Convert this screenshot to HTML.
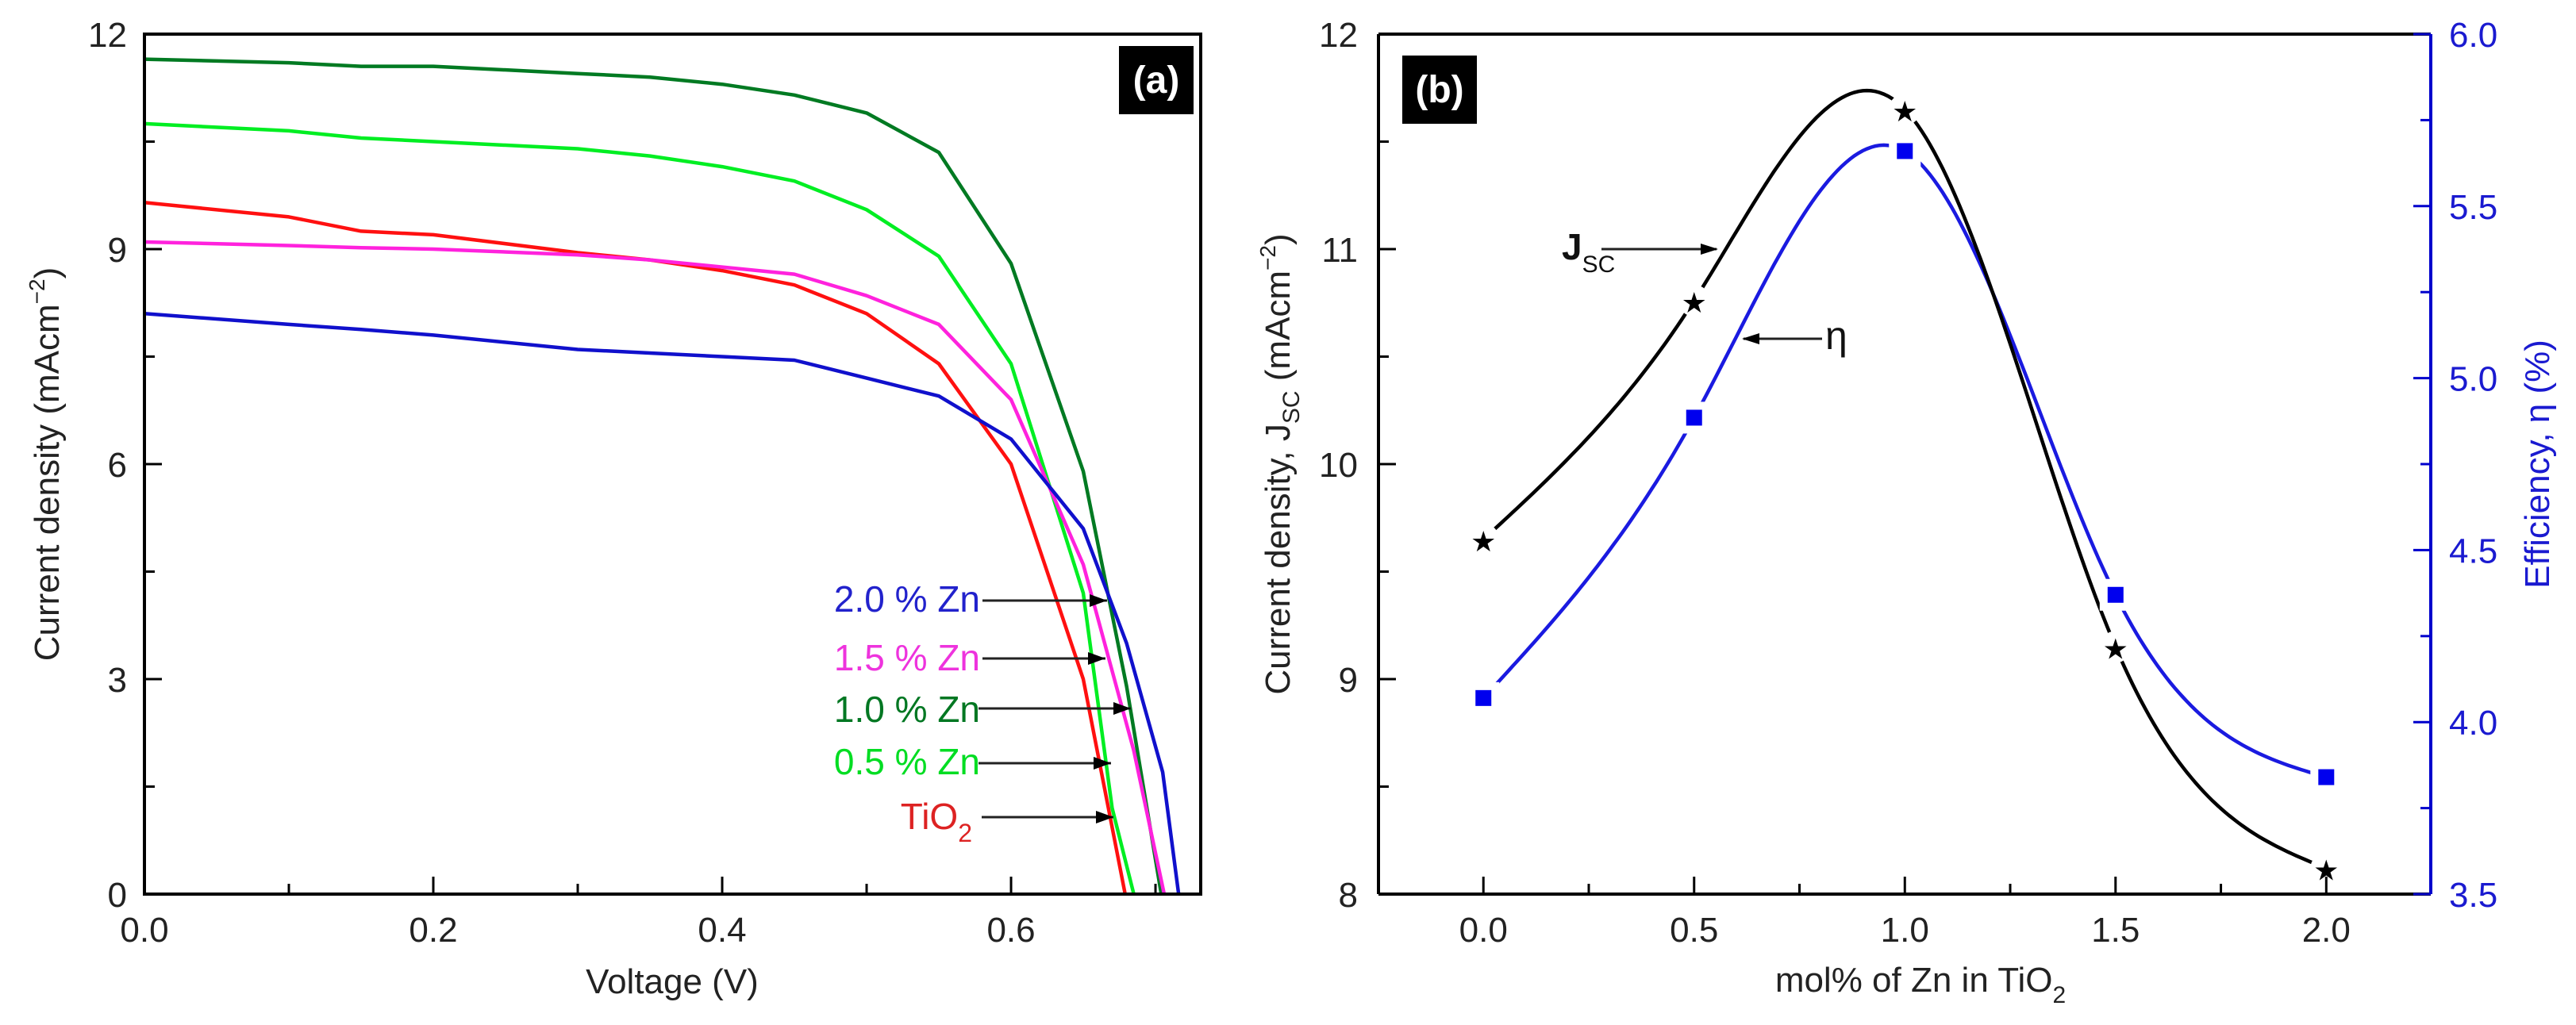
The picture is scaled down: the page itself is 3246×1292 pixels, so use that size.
<!DOCTYPE html>
<html><head><meta charset="utf-8"><style>
html,body{margin:0;padding:0;background:#fff;}
svg{display:block;font-family:"Liberation Sans",Arial,sans-serif;}
</style></head><body>
<svg id="fig" width="3246" height="1292" viewBox="0 0 3246 1292" xmlns="http://www.w3.org/2000/svg"></svg>
<script>
// ---------- Panel (a) data ----------
const voltA = [0,0.1,0.15,0.2,0.3,0.35,0.4,0.45,0.5,0.55,0.6,0.65];
const seriesNames = ["TiO2","0.5 % Zn","1.0 % Zn","1.5 % Zn","2.0 % Zn"];
const jTiO2 = [9.65,9.45,9.25,9.2,8.95,8.85,8.7,8.5,8.1,7.4,6.0,3.0];
const jZn05 = [10.75,10.65,10.55,10.5,10.4,10.3,10.15,9.95,9.55,8.9,7.4,4.2];
const jZn10 = [11.65,11.6,11.55,11.55,11.45,11.4,11.3,11.15,10.9,10.35,8.8,5.9];
const jZn15 = [9.1,9.05,9.02,9.0,8.92,8.85,8.75,8.65,8.35,7.95,6.9,4.6];
const jZn20 = [8.1,7.95,7.88,7.8,7.6,7.55,7.5,7.45,7.2,6.95,6.35,5.1];
const tailV = [[0.679],[0.67,0.685],[0.68,0.704],[0.685,0.706],[0.68,0.705,0.716]];
const tailJ = [[0],[1.2,0],[2.9,0],[2.0,0],[3.5,1.7,0]];
const colorsA = ["#ff1010","#00ee22","#007a22","#ff22dd","#1010cc"];
const xTicksA = [0,0.2,0.4,0.6];
const yTicksA = [0,3,6,9,12];
// ---------- Panel (b) data ----------
const molZn = [0,0.5,1.0,1.5,2.0];
const jsc = [9.65,10.76,11.65,9.15,8.12];
const eff = [4.07,4.885,5.66,4.37,3.84];
const xTicksB = [0,0.5,1.0,1.5,2.0];
const yTicksBL = [8,9,10,11,12];
const yTicksBR = [3.5,4.0,4.5,5.0,5.5,6.0];

const NS="http://www.w3.org/2000/svg";
const svg=document.getElementById('fig');
function el(tag,attrs,parent){const e=document.createElementNS(NS,tag);for(const k in attrs)e.setAttribute(k,attrs[k]);(parent||svg).appendChild(e);return e;}
function txt(x,y,s,attrs,parent){const t=el('text',Object.assign({x:x,y:y,'font-size':44},attrs),parent);t.textContent=s;return t;}

// axes functions
const AX={l:182,r:1513,t:43,b:1127,x0:0,x1:0.7313,y0:0,y1:12};
const xa=v=>AX.l+(v-AX.x0)/(AX.x1-AX.x0)*(AX.r-AX.l);
const ya=v=>AX.b-(v-AX.y0)/(AX.y1-AX.y0)*(AX.b-AX.t);
const BX={l:1737,r:3063,t:43,b:1127,x0:-0.249,x1:2.248};
const xb=v=>BX.l+(v-BX.x0)/(BX.x1-BX.x0)*(BX.r-BX.l);
const ybl=v=>BX.b-(v-8)/4*(BX.b-BX.t);
const ybr=v=>BX.b-(v-3.5)/2.5*(BX.b-BX.t);

// ---------- Panel a ----------
const gA=el('g',{});


const allJ=[jTiO2,jZn05,jZn10,jZn15,jZn20];
allJ.forEach((arr,i)=>{
  const pts=voltA.map((v,k)=>xa(v).toFixed(1)+','+ya(arr[k]).toFixed(1));
  tailV[i].forEach((v,k)=>pts.push(xa(v).toFixed(1)+','+ya(tailJ[i][k]).toFixed(1)));
  const p=el('polyline',{points:pts.join(' '),fill:'none',stroke:colorsA[i],'stroke-width':4.5,'stroke-linejoin':'round'},gA);
  
  
});
// frame
const fa=el('rect',{x:AX.l,y:AX.t,width:AX.r-AX.l,height:AX.b-AX.t,fill:'none',stroke:'#000','stroke-width':4},gA);


for(let v=0;v<=0.7001;v+=0.1){const maj=Math.abs(v*5-Math.round(v*5))<1e-6;el('line',{x1:xa(v),x2:xa(v),y1:AX.b,y2:AX.b-(maj?22:13),stroke:'#000','stroke-width':3},gA);}
for(let v=0;v<=12;v+=1.5){const maj=v%3===0;el('line',{x1:AX.l,x2:AX.l+(maj?22:13),y1:ya(v),y2:ya(v),stroke:'#000','stroke-width':3},gA);}
xTicksA.forEach(v=>{const t=txt(xa(v),1187,v.toFixed(1),{'text-anchor':'middle',fill:'#222'},gA);});
yTicksA.forEach(v=>{const t=txt(160,ya(v)+16,String(v),{'text-anchor':'end',fill:'#222'},gA);});
let t=txt(847,1252,'Voltage (V)',{'text-anchor':'middle',fill:'#222'},gA);

t=el('text',{x:0,y:0,'font-size':44,'text-anchor':'middle',fill:'#222',transform:'translate(74,585) rotate(-90)'},gA);
t.innerHTML='Current density (mAcm<tspan dy="-18" font-size="28">−2</tspan><tspan dy="18">)</tspan>';

// legend labels with arrows
const legY=[1045,976,910,845,771];
const legArrow=[[1237,1403,1030],[1233,1400,962],[1233,1425,893],[1238,1393,830],[1238,1395,757]];
const legCol=["#dd2222","#00dd22","#007722","#ee33dd","#2222cc"];
el('defs',{},gA).innerHTML='<marker id="ah" viewBox="0 0 10 10" refX="10" refY="5" markerWidth="6" markerHeight="6" orient="auto" markerUnits="userSpaceOnUse"><path d="M0,0 L10,5 L0,10 z" fill="#000"/></marker>';
[0,1,2,3,4].forEach(i=>{
  const a=legArrow[i];
  const ln=el('line',{x1:a[0],x2:a[1],y1:a[2],y2:a[2],stroke:'#222','stroke-width':3},gA);
  
  el('path',{d:`M${a[1]},${a[2]} l-22,-8 l0,16 z`,fill:'#000'},gA);
  let lt;
  if(i===0){lt=el('text',{x:1225,y:legY[i],'font-size':46,'text-anchor':'end',fill:legCol[i]},gA);lt.innerHTML='TiO<tspan dy="16" font-size="32">2</tspan>';}
  else lt=txt(1235,legY[i],seriesNames[i],{'text-anchor':'end',fill:legCol[i],'font-size':46},gA);
  
});
let bx=el('rect',{x:1410,y:58,width:94,height:86,fill:'#000'},gA);

t=txt(1457,117,'(a)',{'text-anchor':'middle',fill:'#fff','font-weight':'bold','font-size':48},gA);


// ---------- Panel b ----------
const gB=el('g',{});


function spline(xs,ys){const n=xs.length,h=[],al=[],l=[1],mu=[0],z=[0],c=new Array(n).fill(0),b=[],d=[];
  for(let i=0;i<n-1;i++)h.push(xs[i+1]-xs[i]);
  for(let i=1;i<n-1;i++)al[i]=3/h[i]*(ys[i+1]-ys[i])-3/h[i-1]*(ys[i]-ys[i-1]);
  for(let i=1;i<n-1;i++){l[i]=2*(xs[i+1]-xs[i-1])-h[i-1]*mu[i-1];mu[i]=h[i]/l[i];z[i]=(al[i]-h[i-1]*z[i-1])/l[i];}
  for(let j=n-2;j>=0;j--){c[j]=z[j]-mu[j]*c[j+1];b[j]=(ys[j+1]-ys[j])/h[j]-h[j]*(c[j+1]+2*c[j])/3;d[j]=(c[j+1]-c[j])/(3*h[j]);}
  return x=>{let i=Math.min(n-2,Math.max(0,xs.findIndex((v,k)=>k<n-1&&x<=xs[k+1])));if(i<0)i=n-2;const dx=x-xs[i];return ys[i]+b[i]*dx+c[i]*dx*dx+d[i]*dx*dx*dx;};}
function curve(xs,ys,yf,col,name){const f=spline(xs,ys);const pts=[];for(let k=0;k<=200;k++){const x=xs[0]+(xs[xs.length-1]-xs[0])*k/200;pts.push(xb(x).toFixed(1)+','+yf(f(x)).toFixed(1));}
  const p=el('polyline',{points:pts.join(' '),fill:'none',stroke:col,'stroke-width':4.5},gB);}
curve(molZn,eff,ybr,'#1a1ae0','efficiency-curve');
curve(molZn,jsc,ybl,'#000','jsc-curve');
molZn.forEach((x,i)=>{
  el('circle',{cx:xb(x),cy:ybl(jsc[i]),r:20,fill:'#fff'},gB);
  const s=txt(xb(x),ybl(jsc[i])+15,'★',{'text-anchor':'middle','font-size':36,fill:'#000','font-family':'DejaVu Sans'},gB);
  
});
molZn.forEach((x,i)=>{
  el('rect',{x:xb(x)-20,y:ybr(eff[i])-20,width:40,height:40,fill:'#fff'},gB);
  const s=el('rect',{x:xb(x)-10,y:ybr(eff[i])-10,width:20,height:20,fill:'#0000ee'},gB);
  
});
// frame
el('line',{x1:BX.l,x2:BX.r,y1:BX.t,y2:BX.t,stroke:'#000','stroke-width':4},gB);
el('line',{x1:BX.l,x2:BX.r,y1:BX.b,y2:BX.b,stroke:'#000','stroke-width':4},gB);
let la=el('line',{x1:BX.l,x2:BX.l,y1:BX.t,y2:BX.b,stroke:'#000','stroke-width':4},gB);

let ra=el('line',{x1:BX.r,x2:BX.r,y1:BX.t,y2:BX.b,stroke:'#0000cc','stroke-width':4},gB);

for(let v=0;v<=2.0001;v+=0.25){const maj=Math.abs(v*2-Math.round(v*2))<1e-6;el('line',{x1:xb(v),x2:xb(v),y1:BX.b,y2:BX.b-(maj?22:13),stroke:'#000','stroke-width':3},gB);}
for(let v=8;v<=12;v+=0.5){const maj=v%1===0;el('line',{x1:BX.l,x2:BX.l+(maj?22:13),y1:ybl(v),y2:ybl(v),stroke:'#000','stroke-width':3},gB);}
for(let v=3.5;v<=6.0001;v+=0.25){const maj=Math.abs(v*2-Math.round(v*2))<1e-6;el('line',{x1:BX.r,x2:BX.r-(maj?22:13),y1:ybr(v),y2:ybr(v),stroke:'#0000cc','stroke-width':3},gB);}
xTicksB.forEach(v=>{const t=txt(xb(v),1187,v.toFixed(1),{'text-anchor':'middle',fill:'#222'},gB);});
yTicksBL.forEach(v=>{const t=txt(1711,ybl(v)+16,String(v),{'text-anchor':'end',fill:'#222'},gB);});
yTicksBR.forEach(v=>{const t=txt(3086,ybr(v)+16,v.toFixed(1),{fill:'#1a1ad0'},gB);});
t=el('text',{x:2420,y:1250,'font-size':44,'text-anchor':'middle',fill:'#222'},gB);
t.innerHTML='mol% of Zn in TiO<tspan dy="14" font-size="30">2</tspan>';

t=el('text',{x:0,y:0,'font-size':44,'text-anchor':'middle',fill:'#222',transform:'translate(1625,585) rotate(-90)'},gB);
t.innerHTML='Current density, J<tspan dy="12" font-size="30">SC</tspan><tspan dy="-12"> (mAcm</tspan><tspan dy="-18" font-size="28">−2</tspan><tspan dy="18">)</tspan>';

t=el('text',{x:0,y:0,'font-size':44,'text-anchor':'middle',fill:'#1a1ad0',transform:'translate(3212,585) rotate(-90)'},gB);
t.textContent='Efficiency, η (%)';

// annotations
t=el('text',{x:1968,y:327,'font-size':46,'font-weight':'bold',fill:'#111'},gB);
t.innerHTML='J<tspan dy="16" font-size="30" font-weight="normal">SC</tspan>';

el('line',{x1:2018,x2:2163,y1:314,y2:314,stroke:'#222','stroke-width':3},gB);
el('path',{d:'M2165,314 l-22,-7 l0,14 z',fill:'#000'},gB);
t=txt(2300,440,'η',{'font-size':50,fill:'#111'},gB);

el('line',{x1:2296,x2:2197,y1:427,y2:427,stroke:'#222','stroke-width':3},gB);
el('path',{d:'M2195,427 l22,-7 l0,14 z',fill:'#000'},gB);
bx=el('rect',{x:1767,y:70,width:94,height:86,fill:'#000'},gB);

t=txt(1814,129,'(b)',{'text-anchor':'middle',fill:'#fff','font-weight':'bold','font-size':48},gB);

</script>
</body></html>
